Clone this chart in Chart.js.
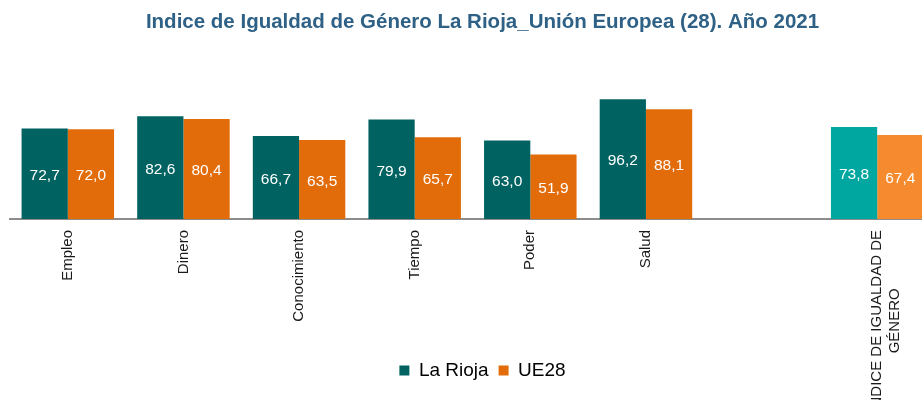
<!DOCTYPE html>
<html lang="es">
<head>
<meta charset="utf-8">
<title>Indice de Igualdad de Género La Rioja_Unión Europea (28). Año 2021</title>
<script src="https://cdn.jsdelivr.net/npm/chart.js@4.4.1/dist/chart.umd.min.js"></script>
<style>
  html,body{margin:0;padding:0;background:#fff;overflow:hidden;}
  .wrap{width:955px;height:400px;}
</style>
</head>
<body>
<div class="wrap"><canvas id="igChart" width="955" height="400"></canvas></div>
<script>
/* ── Data ── */
const categories=['Empleo','Dinero','Conocimiento','Tiempo','Poder','Salud','',['ÍNDICE DE IGUALDAD DE','GÉNERO']];
const laRioja=[72.7,82.6,66.7,79.9,63.0,96.2,null,73.8];
const ue28=[72.0,80.4,63.5,65.7,51.9,88.1,null,67.4];
const yTicks={min:0,max:120};

/* ── Colours ── */
const TEAL='#006361',TEAL_LIGHT='#00A7A0';
const ORANGE='#E36C0A',ORANGE_LIGHT='#F58B2E';
const lastIdx=categories.length-1;
const colorsFor=(base,light)=>categories.map((c,i)=>i===lastIdx?light:base);

const FONT='"Liberation Sans", Arial, sans-serif';

/* centre the lines of a multi-line label (ticks are right-aligned when rotated) */
const mctx=document.createElement('canvas').getContext('2d');
mctx.font='15px '+FONT;
function centreLines(lbl){
  if(!Array.isArray(lbl))return lbl;
  const w=lbl.map(s=>mctx.measureText(s).width);
  const max=Math.max(...w);
  const sp=mctx.measureText('\u00a0').width;
  return lbl.map((s,i)=>s+'\u00a0'.repeat(Math.round((max-w[i])/2/sp)));
}

/* ── Value labels inside the bars ── */
const barValues={
  id:'barValues',
  afterDatasetsDraw(chart){
    const ctx=chart.ctx;
    ctx.save();
    ctx.font='15.5px '+FONT;
    ctx.fillStyle='#ffffff';
    ctx.textAlign='center';
    ctx.textBaseline='middle';
    chart.data.datasets.forEach((ds,di)=>{
      chart.getDatasetMeta(di).data.forEach((bar,i)=>{
        const v=ds.data[i];
        if(v==null)return;
        ctx.fillText(v.toFixed(1).replace('.',','),bar.x,(bar.y+bar.base)/2+2);
      });
    });
    ctx.restore();
  }
};

/* let the long rotated label run past the axis box (it is cut by the canvas edge) */
const unclipTicks={
  id:'unclipTicks',
  afterLayout(chart){chart.scales.x.bottom=chart.height+80;}
};

new Chart(document.getElementById('igChart'),{
  type:'bar',
  data:{
    labels:categories,
    datasets:[
      {label:'La Rioja',data:laRioja,backgroundColor:colorsFor(TEAL,TEAL_LIGHT),borderWidth:0},
      {label:'UE28',data:ue28,backgroundColor:colorsFor(ORANGE,ORANGE_LIGHT),borderWidth:0}
    ]
  },
  options:{
    responsive:false,
    animation:false,
    devicePixelRatio:1,
    layout:{padding:{left:10,right:0,top:0,bottom:10}},
    datasets:{bar:{categoryPercentage:0.8,barPercentage:1}},
    plugins:{
      title:{
        display:true,
        text:'Indice de Igualdad de Género La Rioja_Unión Europea (28). Año 2021',
        color:'#2E6185',
        font:{family:FONT,size:20.5,weight:'bold'},
        padding:{top:10,bottom:35}
      },
      legend:{
        position:'bottom',
        labels:{
          color:'#111',
          boxWidth:10,boxHeight:10,padding:10,
          font:{family:FONT,size:19},
          generateLabels(chart){
            return chart.data.datasets.map((ds,i)=>({
              text:ds.label,fillStyle:ds.backgroundColor[0],strokeStyle:ds.backgroundColor[0],
              lineWidth:0,hidden:false,datasetIndex:i
            }));
          }
        }
      },
      tooltip:{enabled:false}
    },
    scales:{
      x:{
        grid:{display:false,drawTicks:false},
        border:{display:true,color:'#8c8c8c',width:2},
        ticks:{
          autoSkip:false,minRotation:90,maxRotation:90,padding:11,
          color:'#1a1a1a',
          font:{family:FONT,size:15},
          callback(v){return centreLines(this.getLabelForValue(v));}
        },
        afterFit(s){s.height=132;}
      },
      y:{
        position:'right',
        min:yTicks.min,max:yTicks.max,
        grid:{display:false},
        border:{display:false},
        ticks:{display:false},
        afterFit(s){s.width=20;}
      }
    }
  },
  plugins:[barValues,unclipTicks]
});
</script>
</body>
</html>
